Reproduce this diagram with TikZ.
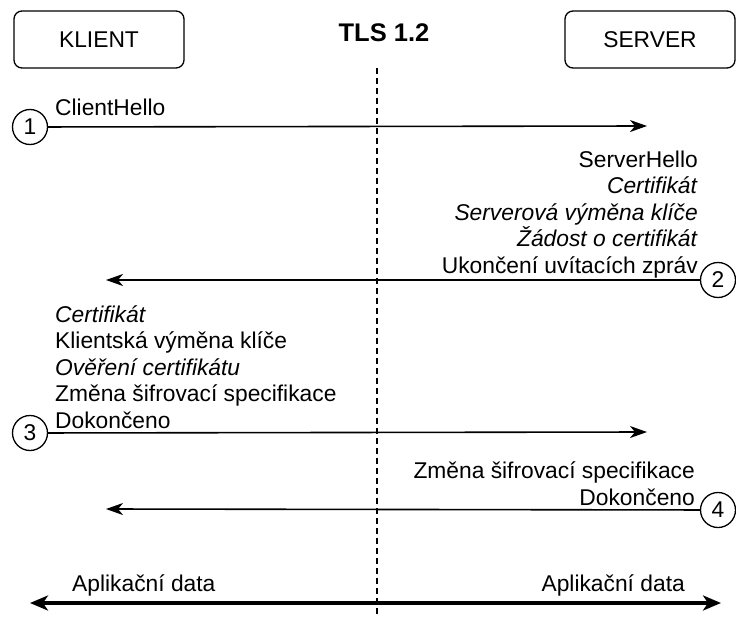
\documentclass[tikz,border=0pt]{standalone}
\usepackage{fontspec}
\setmainfont{Liberation Sans}
\usetikzlibrary{arrows.meta}

\tikzset{
    txt/.style = {inner sep=0, font=\fontsize{22.8}{26.4}\selectfont},
    party/.style = {draw, rounded corners=8pt, line width=1.3pt, minimum width=170pt,
        minimum height=57pt, font=\fontsize{22.8}{26.4}\selectfont},
    num/.style = {draw, circle, line width=1.3pt, minimum size=35pt, inner sep=0,
        font=\fontsize{22.8}{26.4}\selectfont},
    msg/.style = {line width=1.6pt, -{Stealth[length=17pt, width=12pt, inset=5pt]}},
}

\begin{document}
\begin{tikzpicture}[x=1pt, y=-1pt]
            \useasboundingbox (0, 0) rectangle (736, 618);

            \node[party] (K) at (99, 39.5) {KLIENT};
            \node[party] (S) at (650, 39.5) {SERVER};
            \node[txt, font=\fontsize{25.5}{28}\selectfont\bfseries] (T) at (384, 33) {TLS 1.2};

            \coordinate (L1) at (377, 68);
            \coordinate (L2) at (377, 618);
            \draw[line width=1.3pt, dash pattern=on 6pt off 4pt] (L1) -- (L2);

            % 1
            \node[num] (C1) at (30, 127) {1};
            \coordinate (E1) at (647, 126);
            \node[txt, anchor=base west] (M1) at (55, 115) {ClientHello};
            \draw[msg] (C1) -- (E1);

            % 2
            \node[num] (C2) at (718, 280) {2};
            \coordinate (E2) at (106, 280);
            \node[txt, anchor=base east, align=right] (M2) at (698, 273)
                {ServerHello\\ \textit{Certifikát}\\ \textit{Serverová výměna klíče}\\
                 \textit{Žádost o certifikát}\\ Ukončení uvítacích zpráv};
            \draw[msg] (C2) -- (E2);

            % 3
            \node[num] (C3) at (30, 433) {3};
            \coordinate (E3) at (647, 432);
            \node[txt, anchor=base west, align=left] (M3) at (55, 428)
                {\textit{Certifikát}\\ Klientská výměna klíče\\ \textit{Ověření certifikátu}\\
                 Změna šifrovací specifikace\\ Dokončeno};
            \draw[msg] (C3) -- (E3);

            % 4
            \node[num] (C4) at (718, 510) {4};
            \coordinate (E4) at (106, 509);
            \node[txt, anchor=base east, align=right] (M4) at (695, 505)
                {Změna šifrovací specifikace\\ Dokončeno};
            \draw[msg] (C4) -- (E4);

            % data
            \coordinate (D1) at (30, 603);
            \coordinate (D2) at (721, 603);
            \node[txt, anchor=base west] (A1) at (72, 591) {Aplikační data};
            \node[txt, anchor=base east] (A2) at (685, 591) {Aplikační data};
            \draw[line width=3.8pt, {Stealth[length=18pt, width=15pt, inset=5pt]}-{Stealth[length=18pt, width=15pt, inset=5pt]}] (D1) -- (D2);

        \end{tikzpicture}
\end{document}
